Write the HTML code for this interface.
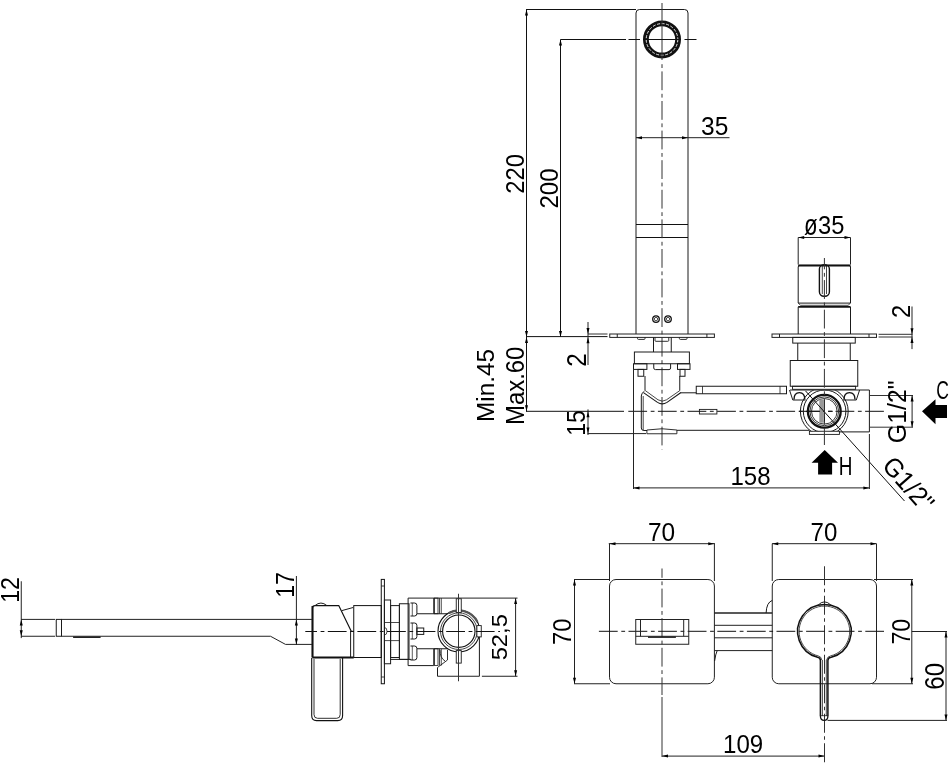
<!DOCTYPE html>
<html><head><meta charset="utf-8"><style>html,body{margin:0;padding:0;background:#fff}svg{display:block;filter:grayscale(1)}text{font-family:"Liberation Sans",sans-serif;fill:#000}</style></head>
<body><svg width="952" height="768" viewBox="0 0 952 768">
<rect width="952" height="768" fill="#fff"/>
<path d="M636,334 V13 Q636,9.5 639.5,9.5 H684.5 Q688,9.5 688,13 V334" fill="none" stroke="#1a1a1a" stroke-width="1" />
<line x1="636" y1="224.5" x2="688" y2="224.5" stroke="#111" stroke-width="1" />
<line x1="636" y1="237.5" x2="688" y2="237.5" stroke="#111" stroke-width="1" />
<circle cx="656" cy="319.1" r="3.3" fill="none" stroke="#111" stroke-width="1.3" />
<circle cx="656" cy="319.1" r="1.7" fill="none" stroke="#333" stroke-width="0.9" />
<circle cx="668" cy="319.1" r="3.3" fill="none" stroke="#111" stroke-width="1.3" />
<circle cx="668" cy="319.1" r="1.7" fill="none" stroke="#333" stroke-width="0.9" />
<circle cx="662" cy="39.4" r="16.1" fill="none" stroke="#111" stroke-width="5.8" />
<circle cx="662" cy="39.4" r="15.8" fill="none" stroke="#fff" stroke-width="0.9" stroke-dasharray="3 1.6"/>
<line x1="662" y1="3" x2="662" y2="60" stroke="#333" stroke-width="1" />
<line x1="662" y1="61" x2="662" y2="449.4" stroke="#333" stroke-width="1" stroke-dasharray="18.8 3.6 3.8 3.4" stroke-dashoffset="19.20"/>
<line x1="628.5" y1="39.5" x2="640" y2="39.5" stroke="#111" stroke-width="1" />
<line x1="644" y1="39.5" x2="680" y2="39.5" stroke="#111" stroke-width="1" />
<line x1="684.5" y1="39.5" x2="696.5" y2="39.5" stroke="#111" stroke-width="1" />
<line x1="526.5" y1="9.5" x2="526.5" y2="411.5" stroke="#111" stroke-width="1" />
<polygon points="526.50,9.50 525.00,15.50 528.00,15.50" fill="#000"/>
<polygon points="526.50,337.00 525.00,331.00 528.00,331.00" fill="#000"/>
<polygon points="526.50,337.00 525.00,343.00 528.00,343.00" fill="#000"/>
<polygon points="526.50,411.30 525.00,405.30 528.00,405.30" fill="#000"/>
<line x1="526" y1="9.5" x2="636" y2="9.5" stroke="#111" stroke-width="1" />
<line x1="560.5" y1="39.5" x2="560.5" y2="337" stroke="#111" stroke-width="1" />
<polygon points="560.50,39.50 559.00,45.50 562.00,45.50" fill="#000"/>
<polygon points="560.50,337.00 559.00,331.00 562.00,331.00" fill="#000"/>
<line x1="560.5" y1="39.5" x2="626" y2="39.5" stroke="#111" stroke-width="1" />
<line x1="526" y1="336.6" x2="607.5" y2="336.6" stroke="#111" stroke-width="1" />
<line x1="588" y1="334" x2="607.5" y2="334" stroke="#333" stroke-width="1" />
<line x1="636" y1="137.7" x2="729.5" y2="137.7" stroke="#222" stroke-width="1" />
<polygon points="636.00,137.70 642.00,136.20 642.00,139.20" fill="#000"/>
<polygon points="688.00,137.70 682.00,136.20 682.00,139.20" fill="#000"/>
<line x1="588" y1="322" x2="588" y2="365" stroke="#222" stroke-width="1" />
<polygon points="588.00,334.00 586.50,328.00 589.50,328.00" fill="#000"/>
<polygon points="588.00,337.20 586.50,343.20 589.50,343.20" fill="#000"/>
<line x1="588" y1="409.4" x2="588" y2="435" stroke="#222" stroke-width="1" />
<polygon points="588.00,411.30 586.50,417.30 589.50,417.30" fill="#000"/>
<polygon points="588.00,433.60 586.50,427.60 589.50,427.60" fill="#000"/>
<line x1="587.5" y1="433.6" x2="646" y2="433.6" stroke="#222" stroke-width="1" />
<line x1="526" y1="411.3" x2="624" y2="411.3" stroke="#111" stroke-width="1" />
<line x1="626.5" y1="411.3" x2="886" y2="411.3" stroke="#111" stroke-width="1" stroke-dasharray="18.8 3.6 3.8 3.4" stroke-dashoffset="27.80"/>
<rect x="609.75" y="334" width="104.65" height="3.4" rx="0" fill="none" stroke="#222" stroke-width="1" />
<line x1="617.25" y1="334" x2="617.25" y2="337.4" stroke="#222" stroke-width="1" />
<line x1="706.9" y1="334" x2="706.9" y2="337.4" stroke="#222" stroke-width="1" />
<rect x="772" y="334" width="104.5" height="3.4" rx="0" fill="none" stroke="#222" stroke-width="1" />
<line x1="779.5" y1="334" x2="779.5" y2="337.4" stroke="#222" stroke-width="1" />
<line x1="869.0" y1="334" x2="869.0" y2="337.4" stroke="#222" stroke-width="1" />
<path d="M637.5,337.4 V338.59999999999997 Q637.5,339.4 638.5,339.4 H644 Q645,339.4 645,338.59999999999997 V337.4" fill="none" stroke="#1a1a1a" stroke-width="0.9" />
<path d="M655,337.4 V340.5 Q655,341.3 656,341.3 H667.75 Q668.75,341.3 668.75,340.5 V337.4" fill="none" stroke="#1a1a1a" stroke-width="0.9" />
<path d="M679.4,337.4 V338.59999999999997 Q679.4,339.4 680.4,339.4 H686 Q687,339.4 687,338.59999999999997 V337.4" fill="none" stroke="#1a1a1a" stroke-width="0.9" />
<line x1="653.5" y1="337.4" x2="653.5" y2="352" stroke="#1a1a1a" stroke-width="1" />
<line x1="671.25" y1="337.4" x2="671.25" y2="352" stroke="#1a1a1a" stroke-width="1" />
<rect x="634.4" y="352" width="55.0" height="11.75" rx="0" fill="none" stroke="#1a1a1a" stroke-width="1" />
<rect x="633.5" y="363.75" width="13.4" height="5.65" rx="0" fill="none" stroke="#1a1a1a" stroke-width="1" />
<rect x="677.5" y="363.75" width="12.5" height="5.65" rx="0" fill="none" stroke="#1a1a1a" stroke-width="1" />
<path d="M653.75,363.75 V368 Q653.75,369.6 655.5,369.6 H669 Q670.6,369.6 670.6,368 V363.75" fill="none" stroke="#1a1a1a" stroke-width="1" />
<rect x="638" y="369.4" width="5.75" height="6.85" rx="0" fill="none" stroke="#1a1a1a" stroke-width="1" />
<rect x="680" y="369.4" width="5" height="6.85" rx="0" fill="none" stroke="#1a1a1a" stroke-width="1" />
<line x1="633.5" y1="369.4" x2="633.5" y2="489" stroke="#222" stroke-width="1" />
<line x1="645" y1="376" x2="645" y2="390.6" stroke="#1a1a1a" stroke-width="1" />
<line x1="679.75" y1="376" x2="679.75" y2="390.6" stroke="#1a1a1a" stroke-width="1" />
<path d="M643.5,392.6 L657.5,402.4 Q662.2,405.4 667,402.4 L681,392.5" fill="none" stroke="#1a1a1a" stroke-width="1.1" />
<path d="M645.3,390.6 L658,399.8 Q662.2,402.6 666.5,399.8 L679.8,390.6" fill="none" stroke="#1a1a1a" stroke-width="0.8" />
<path d="M644.4,391.25 Q641.3,393 641.3,396 V428 Q641.3,430.5 644,430.5 H647" fill="none" stroke="#1a1a1a" stroke-width="1" />
<path d="M643.2,396 V430" fill="none" stroke="#1a1a1a" stroke-width="0.8" />
<path d="M646.9,433.75 V430 Q662,427.5 676.9,430 V433.75 Z" fill="none" stroke="#1a1a1a" stroke-width="0.9" />
<line x1="676.9" y1="430.3" x2="809.4" y2="430.3" stroke="#1a1a1a" stroke-width="1" />
<line x1="680.6" y1="392.8" x2="696.25" y2="392.8" stroke="#1a1a1a" stroke-width="1" />
<rect x="696.25" y="386.25" width="90.25" height="7.5" rx="0" fill="none" stroke="#1a1a1a" stroke-width="1" />
<line x1="702.5" y1="386.25" x2="702.5" y2="393.75" stroke="#1a1a1a" stroke-width="0.8" />
<line x1="780" y1="386.25" x2="780" y2="393.75" stroke="#1a1a1a" stroke-width="0.8" />
<rect x="699.4" y="409.4" width="17.5" height="4.6" rx="0" fill="none" stroke="#1a1a1a" stroke-width="0.9" />
<line x1="798.2" y1="237.5" x2="850.5" y2="237.5" stroke="#222" stroke-width="1" />
<polygon points="798.20,237.50 804.20,236.00 804.20,239.00" fill="#000"/>
<polygon points="850.50,237.50 844.50,236.00 844.50,239.00" fill="#000"/>
<line x1="798.2" y1="237.5" x2="798.2" y2="264.5" stroke="#222" stroke-width="1" />
<line x1="850.5" y1="237.5" x2="850.5" y2="264.5" stroke="#222" stroke-width="1" />
<path d="M798.2,303 V267 Q798.2,265.4 800,265.4 H848.8 Q850.5,265.4 850.5,267 V303" fill="none" stroke="#1a1a1a" stroke-width="1" />
<line x1="798.2" y1="265.6" x2="850.5" y2="265.6" stroke="#111" stroke-width="2" />
<rect x="819.4" y="264.6" width="10.0" height="31.7" rx="4.5" fill="none" stroke="#111" stroke-width="1.4" />
<line x1="822.3" y1="266" x2="822.3" y2="294" stroke="#1a1a1a" stroke-width="0.8" />
<line x1="826.5" y1="266" x2="826.5" y2="294" stroke="#1a1a1a" stroke-width="0.8" />
<line x1="798.2" y1="303.1" x2="850.5" y2="303.1" stroke="#1a1a1a" stroke-width="1" />
<polyline points="798.2,303.1 800.6,305.3 848.1,305.3 850.5,303.1" fill="none" stroke="#1a1a1a" stroke-width="0.8" />
<line x1="798.2" y1="306.9" x2="850.5" y2="306.9" stroke="#111" stroke-width="1.6" />
<line x1="798.2" y1="306.9" x2="798.2" y2="334" stroke="#1a1a1a" stroke-width="1" />
<line x1="850.5" y1="306.9" x2="850.5" y2="334" stroke="#1a1a1a" stroke-width="1" />
<rect x="792.75" y="337.4" width="62.5" height="5.7" rx="0" fill="none" stroke="#1a1a1a" stroke-width="1" />
<line x1="797.75" y1="343.1" x2="797.75" y2="360.5" stroke="#1a1a1a" stroke-width="1" />
<line x1="850.25" y1="343.1" x2="850.25" y2="360.5" stroke="#1a1a1a" stroke-width="1" />
<rect x="790.25" y="360.5" width="67.5" height="25.75" rx="0" fill="none" stroke="#1a1a1a" stroke-width="1" />
<rect x="792.5" y="386.25" width="63.1" height="3.05" rx="0" fill="none" stroke="#1a1a1a" stroke-width="0.9" />
<line x1="790" y1="390" x2="869.4" y2="390" stroke="#1a1a1a" stroke-width="1" />
<line x1="869.4" y1="390" x2="869.4" y2="431.9" stroke="#1a1a1a" stroke-width="1" />
<line x1="839" y1="431.9" x2="869.4" y2="431.9" stroke="#1a1a1a" stroke-width="1" />
<rect x="809.4" y="431.25" width="30.0" height="3.15" rx="0" fill="none" stroke="#1a1a1a" stroke-width="0.9" />
<path d="M789.5,390 L792.8,400 H805.5" fill="none" stroke="#1a1a1a" stroke-width="1" />
<path d="M794,399.5 Q794,392.6 799.4,392.6 Q804.8,392.6 804.8,399.5" fill="none" stroke="#111" stroke-width="1.4" />
<path d="M859.6,390 L856.3,400 H843" fill="none" stroke="#1a1a1a" stroke-width="1" />
<path d="M844,399.5 Q844,392.6 849.5,392.6 Q855,392.6 855,399.5" fill="none" stroke="#111" stroke-width="1.4" />
<clipPath id="cc"><rect x="780" y="390.3" width="100" height="41"/></clipPath>
<circle cx="824.3" cy="411.3" r="23.9" fill="none" stroke="#1a1a1a" stroke-width="1" clip-path="url(#cc)"/>
<circle cx="824.6" cy="411.3" r="21.3" fill="none" stroke="#1a1a1a" stroke-width="1" clip-path="url(#cc)"/>
<circle cx="824.3" cy="411.3" r="16.4" fill="none" stroke="#111" stroke-width="2.3" />
<circle cx="824.3" cy="411.3" r="14.4" fill="none" stroke="#222" stroke-width="0.9" />
<circle cx="824.3" cy="411.3" r="12.8" fill="none" stroke="#222" stroke-width="0.9" />
<rect x="819.3" y="399.7" width="3.7" height="23.0" rx="0" fill="#999" stroke="none" stroke-width="0" />
<line x1="824.3" y1="399.7" x2="824.3" y2="422.7" stroke="#111" stroke-width="1.3" />
<line x1="828" y1="411.3" x2="832.8" y2="411.3" stroke="#111" stroke-width="1" />
<line x1="799" y1="411.3" x2="820" y2="411.3" stroke="#111" stroke-width="1" />
<line x1="805.5" y1="390.9" x2="904.5" y2="501" stroke="#111" stroke-width="1" />
<line x1="824.4" y1="258" x2="824.4" y2="445" stroke="#333" stroke-width="1" stroke-dasharray="18.8 3.6 3.8 3.4" stroke-dashoffset="7.50"/>
<line x1="869.4" y1="395.5" x2="913" y2="395.5" stroke="#333" stroke-width="1" />
<line x1="869.4" y1="427.2" x2="913" y2="427.2" stroke="#333" stroke-width="1" />
<line x1="912.1" y1="395.5" x2="912.1" y2="427.2" stroke="#222" stroke-width="1" />
<polygon points="912.10,395.50 910.60,401.50 913.60,401.50" fill="#000"/>
<polygon points="912.10,427.20 910.60,421.20 913.60,421.20" fill="#000"/>
<line x1="878.6" y1="334.3" x2="912.5" y2="334.3" stroke="#333" stroke-width="1" />
<line x1="878.6" y1="337" x2="912.5" y2="337" stroke="#333" stroke-width="1" />
<line x1="912" y1="306.5" x2="912" y2="349.1" stroke="#222" stroke-width="1" />
<polygon points="912.00,334.30 910.50,328.30 913.50,328.30" fill="#000"/>
<polygon points="912.00,337.00 910.50,343.00 913.50,343.00" fill="#000"/>
<line x1="633.5" y1="487.9" x2="869.4" y2="487.9" stroke="#222" stroke-width="1" />
<polygon points="633.50,487.90 639.50,486.40 639.50,489.40" fill="#000"/>
<polygon points="869.40,487.90 863.40,486.40 863.40,489.40" fill="#000"/>
<line x1="869.4" y1="434" x2="869.4" y2="489" stroke="#222" stroke-width="1" />
<polygon points="922,411.2 935.5,399.2 935.5,404.9 947,404.9 947,417.9 935.5,417.9 935.5,424.2" fill="#000"/>
<polygon points="824.7,450 838,462.8 832.1,462.8 832.1,474.6 818.1,474.6 818.1,462.8 811.6,462.8" fill="#000"/>
<line x1="21.25" y1="581.25" x2="21.25" y2="638.1" stroke="#222" stroke-width="1" />
<polygon points="21.25,619.40 19.75,625.40 22.75,625.40" fill="#000"/>
<polygon points="21.25,636.25 19.75,630.25 22.75,630.25" fill="#000"/>
<line x1="21" y1="619.4" x2="55" y2="619.4" stroke="#222" stroke-width="1" />
<line x1="21" y1="636.25" x2="55" y2="636.25" stroke="#222" stroke-width="1" />
<rect x="56.25" y="619.4" width="5.25" height="16.85" rx="0" fill="none" stroke="#1a1a1a" stroke-width="1" />
<line x1="61.5" y1="619.4" x2="311.9" y2="619.4" stroke="#222" stroke-width="1" />
<polyline points="61.5,636.25 270.5,636.25 285.5,644.4 311.9,644.4" fill="none" stroke="#222" stroke-width="1" />
<line x1="73.1" y1="637.2" x2="100.6" y2="637.2" stroke="#222" stroke-width="1.6" />
<line x1="296.4" y1="576" x2="296.4" y2="645" stroke="#222" stroke-width="1" />
<polygon points="296.40,619.40 294.90,625.40 297.90,625.40" fill="#000"/>
<polygon points="296.40,644.40 294.90,638.40 297.90,638.40" fill="#000"/>
<path d="M312.5,657.5 V608 Q312.5,605.6 315,605.6 H338.75 L351.25,631.25" fill="none" stroke="#111" stroke-width="1.2" />
<line x1="312.5" y1="606" x2="312.5" y2="657.5" stroke="#111" stroke-width="2" />
<path d="M315,605.6 Q320.9,600.5 326.9,605.6" fill="none" stroke="#1a1a1a" stroke-width="1" />
<line x1="341.9" y1="610.6" x2="353.1" y2="607.5" stroke="#1a1a1a" stroke-width="1" />
<line x1="350.6" y1="631" x2="350.6" y2="657.5" stroke="#1a1a1a" stroke-width="1" />
<line x1="351.25" y1="631.25" x2="353.75" y2="631.25" stroke="#1a1a1a" stroke-width="0.8" />
<rect x="353.75" y="605.6" width="27.5" height="51.9" rx="0" fill="none" stroke="#111" stroke-width="1" />
<line x1="312.5" y1="657.5" x2="353.75" y2="657.5" stroke="#111" stroke-width="1.8" />
<path d="M311.7,658 V715.5 Q311.7,720.6 316.5,720.6 H337.8 Q342.6,720.6 342.6,715.5 V658" fill="none" stroke="#111" stroke-width="1.1" />
<path d="M314,659 V714.5 Q314,718.3 317.5,718.3 H336.8 Q340.2,718.3 340.2,714.5 V659" fill="none" stroke="#1a1a1a" stroke-width="0.9" />
<rect x="381.25" y="579.4" width="3.15" height="104.35" rx="0" fill="none" stroke="#111" stroke-width="1" />
<line x1="381.25" y1="586" x2="384.4" y2="586" stroke="#1a1a1a" stroke-width="0.8" />
<line x1="381.25" y1="677" x2="384.4" y2="677" stroke="#1a1a1a" stroke-width="0.8" />
<rect x="384.4" y="600" width="6.2" height="63.75" rx="0" fill="none" stroke="#1a1a1a" stroke-width="1" />
<rect x="390.6" y="605.6" width="8.8" height="51.9" rx="0" fill="none" stroke="#1a1a1a" stroke-width="1" />
<rect x="399.4" y="603.75" width="9.6" height="55.65" rx="0" fill="none" stroke="#1a1a1a" stroke-width="1" />
<line x1="384.4" y1="622.5" x2="399.4" y2="622.5" stroke="#1a1a1a" stroke-width="0.8" />
<line x1="384.4" y1="640.6" x2="399.4" y2="640.6" stroke="#1a1a1a" stroke-width="0.8" />
<path d="M384.4,627.5 Q387,627.5 387,631.25 Q387,635 384.4,635" fill="none" stroke="#1a1a1a" stroke-width="0.8" />
<path d="M410.5,603 H414.5 Q416.9,603 416.9,605.5 V613.5 Q416.9,616 414.5,616 H410.5" fill="none" stroke="#1a1a1a" stroke-width="1" />
<line x1="412.3" y1="603" x2="412.3" y2="616" stroke="#1a1a1a" stroke-width="0.7" />
<path d="M410.5,623 H414.5 Q416.9,623 416.9,625.5 V636.5 Q416.9,639 414.5,639 H410.5" fill="none" stroke="#1a1a1a" stroke-width="1" />
<line x1="412.3" y1="623" x2="412.3" y2="639" stroke="#1a1a1a" stroke-width="0.7" />
<path d="M410.5,646 H414.5 Q416.9,646 416.9,648.5 V657.5 Q416.9,660 414.5,660 H410.5" fill="none" stroke="#1a1a1a" stroke-width="1" />
<line x1="412.3" y1="646" x2="412.3" y2="660" stroke="#1a1a1a" stroke-width="0.7" />
<rect x="416.9" y="628" width="6.85" height="6.4" rx="0" fill="none" stroke="#1a1a1a" stroke-width="1" />
<line x1="408.1" y1="598.1" x2="517.5" y2="598.1" stroke="#222" stroke-width="1" />
<line x1="408.1" y1="598.1" x2="408.1" y2="665.6" stroke="#1a1a1a" stroke-width="1" />
<line x1="408.1" y1="665.6" x2="433.75" y2="665.6" stroke="#1a1a1a" stroke-width="1" />
<line x1="433.75" y1="598.1" x2="433.75" y2="613.75" stroke="#1a1a1a" stroke-width="1" />
<line x1="433.75" y1="648.75" x2="433.75" y2="665.6" stroke="#1a1a1a" stroke-width="1" />
<rect x="434.4" y="598.1" width="3.6" height="15.65" rx="0" fill="none" stroke="#1a1a1a" stroke-width="0.8" />
<line x1="439.5" y1="598.1" x2="439.5" y2="613.75" stroke="#1a1a1a" stroke-width="0.8" />
<line x1="441.25" y1="598.1" x2="441.25" y2="613.75" stroke="#1a1a1a" stroke-width="0.8" />
<rect x="434.4" y="648.75" width="3.6" height="16.85" rx="0" fill="none" stroke="#1a1a1a" stroke-width="0.8" />
<line x1="439.5" y1="648.75" x2="439.5" y2="665.6" stroke="#1a1a1a" stroke-width="0.8" />
<line x1="441.25" y1="648.75" x2="441.25" y2="665.6" stroke="#1a1a1a" stroke-width="0.8" />
<line x1="416.9" y1="613.75" x2="448" y2="613.75" stroke="#1a1a1a" stroke-width="1" />
<line x1="416.9" y1="648.75" x2="448" y2="648.75" stroke="#1a1a1a" stroke-width="1" />
<circle cx="458.8" cy="631.2" r="20.8" fill="none" stroke="#111" stroke-width="1.1" />
<circle cx="458.8" cy="631.2" r="18.3" fill="none" stroke="#333" stroke-width="0.9" />
<circle cx="458.8" cy="631.2" r="16.2" fill="none" stroke="#111" stroke-width="1.1" />
<path d="M448.5,613.3 A20.8,20.8 0 0,1 477.5,622" fill="none" stroke="#555" stroke-width="2.2" />
<rect x="456.25" y="598.75" width="5.0" height="13.75" rx="0" fill="#fff" stroke="#1a1a1a" stroke-width="0.9" />
<rect x="456.25" y="650.6" width="5.0" height="12.5" rx="0" fill="#fff" stroke="#1a1a1a" stroke-width="0.9" />
<rect x="476.9" y="625.6" width="4.35" height="11.3" rx="0" fill="#fff" stroke="#1a1a1a" stroke-width="0.9" />
<line x1="479.4" y1="636.9" x2="479.4" y2="676.25" stroke="#1a1a1a" stroke-width="1" />
<line x1="437.5" y1="667.5" x2="437.5" y2="676.25" stroke="#1a1a1a" stroke-width="1" />
<line x1="437.5" y1="676.25" x2="479.4" y2="676.25" stroke="#222" stroke-width="1" />
<line x1="481.9" y1="676.25" x2="517.5" y2="676.25" stroke="#222" stroke-width="1" />
<polyline points="437.5,667.5 447.5,660 447.5,650" fill="none" stroke="#1a1a1a" stroke-width="0.9" />
<path d="M440,650 Q440,658 445,661" fill="none" stroke="#1a1a1a" stroke-width="0.9" />
<line x1="458.5" y1="593.75" x2="458.5" y2="681.25" stroke="#333" stroke-width="1" />
<line x1="305.3" y1="631.5" x2="500" y2="631.5" stroke="#111" stroke-width="1" stroke-dasharray="18.8 3.6 3.8 3.4" stroke-dashoffset="7.10"/>
<line x1="515.6" y1="598.1" x2="515.6" y2="676.25" stroke="#222" stroke-width="1" />
<polygon points="515.60,598.10 514.10,604.10 517.10,604.10" fill="#000"/>
<polygon points="515.60,676.25 514.10,670.25 517.10,670.25" fill="#000"/>
<line x1="390" y1="659.4" x2="411.25" y2="659.4" stroke="#1a1a1a" stroke-width="1" />
<rect x="609.5" y="579.5" width="104.9" height="104.25" rx="6.5" fill="none" stroke="#222" stroke-width="1" />
<rect x="772.25" y="579.5" width="104.25" height="104.25" rx="6.5" fill="none" stroke="#222" stroke-width="1" />
<line x1="608.75" y1="543.7" x2="715" y2="543.7" stroke="#222" stroke-width="1" />
<polygon points="609.50,543.70 615.50,542.20 615.50,545.20" fill="#000"/>
<polygon points="714.25,543.70 708.25,542.20 708.25,545.20" fill="#000"/>
<line x1="609.5" y1="543.7" x2="609.5" y2="581" stroke="#222" stroke-width="1" />
<line x1="714.4" y1="543.7" x2="714.4" y2="581" stroke="#222" stroke-width="1" />
<line x1="772" y1="543.7" x2="876.5" y2="543.7" stroke="#222" stroke-width="1" />
<polygon points="772.25,543.70 778.25,542.20 778.25,545.20" fill="#000"/>
<polygon points="876.50,543.70 870.50,542.20 870.50,545.20" fill="#000"/>
<line x1="772.25" y1="543.7" x2="772.25" y2="581" stroke="#222" stroke-width="1" />
<line x1="876.5" y1="543.7" x2="876.5" y2="581" stroke="#222" stroke-width="1" />
<line x1="574.5" y1="579.5" x2="574.5" y2="683.75" stroke="#222" stroke-width="1" />
<polygon points="574.50,579.50 573.00,585.50 576.00,585.50" fill="#000"/>
<polygon points="574.50,683.75 573.00,677.75 576.00,677.75" fill="#000"/>
<line x1="574" y1="579.5" x2="610" y2="579.5" stroke="#222" stroke-width="1" />
<line x1="574" y1="683.75" x2="610" y2="683.75" stroke="#222" stroke-width="1" />
<line x1="911.8" y1="579.5" x2="911.8" y2="683.75" stroke="#222" stroke-width="1" />
<polygon points="911.80,579.50 910.30,585.50 913.30,585.50" fill="#000"/>
<polygon points="911.80,683.75 910.30,677.75 913.30,677.75" fill="#000"/>
<line x1="874" y1="579.5" x2="913" y2="579.5" stroke="#222" stroke-width="1" />
<line x1="872" y1="683.75" x2="913" y2="683.75" stroke="#222" stroke-width="1" />
<line x1="946" y1="631.5" x2="946" y2="720.4" stroke="#222" stroke-width="1" />
<polygon points="946.00,631.50 944.50,637.50 947.50,637.50" fill="#000"/>
<polygon points="946.00,720.40 944.50,714.40 947.50,714.40" fill="#000"/>
<line x1="911.8" y1="631.5" x2="947" y2="631.5" stroke="#222" stroke-width="1" />
<line x1="827.5" y1="720.4" x2="947" y2="720.4" stroke="#222" stroke-width="1" />
<line x1="662" y1="756.1" x2="824.5" y2="756.1" stroke="#222" stroke-width="1" />
<polygon points="662.00,756.10 668.00,754.60 668.00,757.60" fill="#000"/>
<polygon points="824.50,756.10 818.50,754.60 818.50,757.60" fill="#000"/>
<line x1="662" y1="568.5" x2="662" y2="695" stroke="#333" stroke-width="1" stroke-dasharray="18.8 3.6 3.8 3.4" stroke-dashoffset="9.50"/>
<line x1="662" y1="697" x2="662" y2="757" stroke="#333" stroke-width="1" />
<line x1="824.5" y1="566.25" x2="824.5" y2="763.75" stroke="#333" stroke-width="1" stroke-dasharray="19 3.5 3.5 3.5"/>
<line x1="598.75" y1="631.3" x2="884" y2="631.3" stroke="#111" stroke-width="1" stroke-dasharray="18.8 3.6 3.8 3.4" stroke-dashoffset="29.45"/>
<rect x="635.75" y="619.5" width="53.0" height="24.75" rx="0" fill="none" stroke="#222" stroke-width="1" />
<line x1="640.5" y1="619.5" x2="640.5" y2="636.3" stroke="#222" stroke-width="1" />
<line x1="683.7" y1="619.5" x2="683.7" y2="636.3" stroke="#222" stroke-width="1" />
<line x1="635.75" y1="636.3" x2="688.75" y2="636.3" stroke="#222" stroke-width="1" />
<line x1="648" y1="637.2" x2="675.9" y2="637.2" stroke="#111" stroke-width="1.3" />
<line x1="714.25" y1="613" x2="772.25" y2="613" stroke="#222" stroke-width="1.5" />
<line x1="714.25" y1="625.3" x2="772.25" y2="625.3" stroke="#222" stroke-width="1" />
<line x1="714.25" y1="637.8" x2="772.25" y2="637.8" stroke="#222" stroke-width="1" />
<line x1="714.25" y1="650.6" x2="772.25" y2="650.6" stroke="#222" stroke-width="1" />
<path d="M766.1,613 Q766.5,602.5 772.25,600.4" fill="none" stroke="#1a1a1a" stroke-width="1" />
<path d="M717.2,650.6 Q715.6,654 714.6,661" fill="none" stroke="#1a1a1a" stroke-width="1" />
<path d="M820.4,716 V660.5 Q820.4,657.8 817.6,657.3 A26.8,26.8 0 1,1 831.2,657.3 Q827.9,657.8 827.9,660.5 V716" fill="none" stroke="#111" stroke-width="1.5" />
<path d="M821.8,660 Q821.3,656.5 818.2,655.9 A25.3,25.3 0 1,1 830.6,655.9 Q827.3,656.5 826.6,660" fill="none" stroke="#1a1a1a" stroke-width="0.8" />
<path d="M818,605.2 Q824.5,598.5 831,605.2" fill="none" stroke="#1a1a1a" stroke-width="1" />
<line x1="822.4" y1="660" x2="822.4" y2="716" stroke="#1a1a1a" stroke-width="0.8" />
<line x1="826.3" y1="660" x2="826.3" y2="716" stroke="#1a1a1a" stroke-width="0.8" />
<line x1="820.4" y1="715.7" x2="827.9" y2="715.7" stroke="#1a1a1a" stroke-width="0.8" />
<path d="M820.4,716 Q820.4,720.4 824.15,720.4 Q827.9,720.4 827.9,716" fill="none" stroke="#111" stroke-width="1.3" />
<text transform="matrix(0.24515,0,0,0.25493,701.019,134.745)" font-size="100">35</text>
<text transform="matrix(0,-0.23861,0.25775,0,523.742,193.793)" font-size="100">220</text>
<text transform="matrix(0,-0.24114,0.25915,0,558.141,208.606)" font-size="100">200</text>
<text transform="matrix(0.22281,0,0,0.29474,804.054,235.011)" font-size="100">ø</text>
<text transform="matrix(0.23689,0,0,0.25634,818.052,233.944)" font-size="100">35</text>
<text transform="matrix(0,-0.23696,0.26286,0,909.900,317.885)" font-size="100">2</text>
<text transform="matrix(0,-0.24348,0.26786,0,586.250,366.817)" font-size="100">2</text>
<text transform="matrix(0,-0.24306,0.24527,0,493.505,421.944)" font-size="100">Min.45</text>
<text transform="matrix(0,-0.23924,0.25563,0,524.144,425.014)" font-size="100">Max.60</text>
<text transform="matrix(0,-0.23100,0.25857,0,585.141,435.817)" font-size="100">15</text>
<text transform="matrix(0,-0.24856,0.26081,0,906.139,443.143)" font-size="100">G1/2&quot;</text>
<text transform="matrix(0.17500,0,0,0.26620,936.125,398.834)" font-size="100">C</text>
<text transform="matrix(0.18929,0,0,0.25652,838.686,474.600)" font-size="100">H</text>
<text transform="matrix(0.24038,0,0,0.24930,730.417,484.651)" font-size="100">158</text>
<text transform="matrix(0,-0.23150,0.25000,0,18.750,602.870)" font-size="100">12</text>
<text transform="matrix(0,-0.23100,0.25429,0,293.800,597.817)" font-size="100">17</text>
<text transform="matrix(0,-0.23743,0.22590,0,507.063,660.350)" font-size="100">52,5</text>
<text transform="matrix(0.24466,0,0,0.26197,647.877,540.638)" font-size="100">70</text>
<text transform="matrix(0.24078,0,0,0.26197,810.496,540.638)" font-size="100">70</text>
<text transform="matrix(0,-0.23786,0.26197,0,571.438,644.989)" font-size="100">70</text>
<text transform="matrix(0,-0.23204,0.26197,0,909.738,644.560)" font-size="100">70</text>
<text transform="matrix(0,-0.24029,0.27606,0,944.324,689.701)" font-size="100">60</text>
<text transform="matrix(0.24038,0,0,0.25775,723.117,752.842)" font-size="100">109</text>
<text transform="translate(880.97,466.48) rotate(48.4) scale(0.24856,0.26081)" font-size="100">G1/2&quot;</text>
</svg></body></html>
